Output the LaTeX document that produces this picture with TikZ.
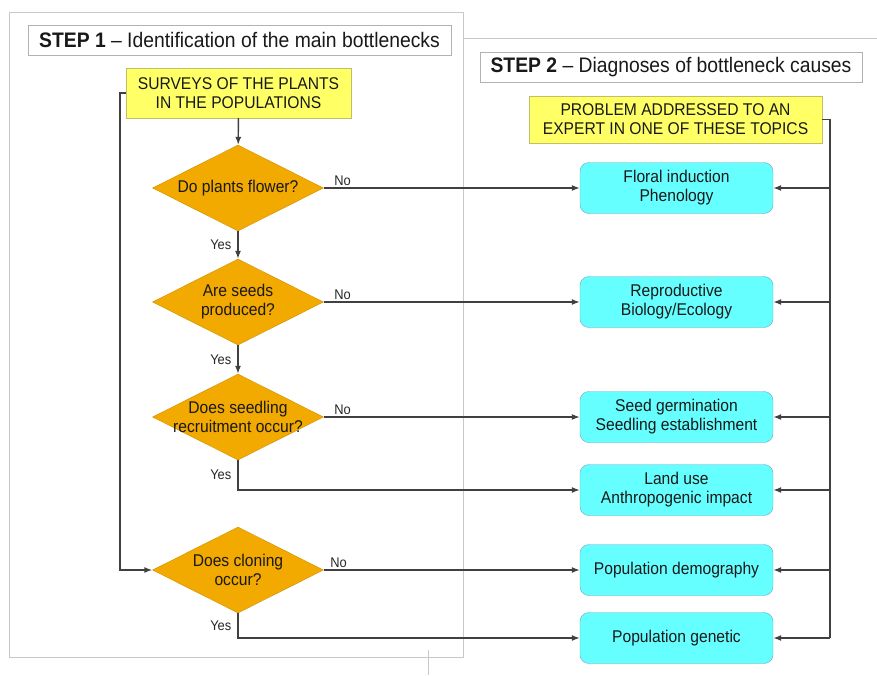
\documentclass[tikz,border=0pt]{standalone}
\usepackage{fontspec}
\setmainfont{Liberation Sans}[FakeStretch=0.92]
\usepackage{tikz}
\usetikzlibrary{shapes.geometric,positioning,arrows.meta}
\definecolor{boxyellow}{RGB}{255,255,102}
\definecolor{diaorange}{RGB}{242,169,0}
\definecolor{topiccyan}{RGB}{102,255,255}
\definecolor{wiregray}{RGB}{64,64,64}
\definecolor{framegray}{RGB}{200,200,200}
\tikzset{>={Latex[length=8pt,width=6pt]}}
\tikzstyle{arrow}  = [->,
                      line width=1.4pt,
                      draw=wiregray]
\tikzstyle{wire}   = [line width=1.4pt,
                      draw=wiregray]
\tikzstyle{frame}  = [line width=1pt,
                      draw=framegray]
\tikzstyle{steptitle} = [draw=gray!60,
                         fill=white,
                         minimum height=30pt,
                         inner sep=0pt,
                         text=black!90,
                         font=\fontsize{21}{24}\selectfont]
\tikzstyle{note}   = [draw=yellow!45!gray,
                      fill=boxyellow,
                      align=center,
                      inner sep=0pt,
                      text=black!90,
                      font=\fontsize{17}{19}\selectfont]
\tikzstyle{question} = [diamond,
                        draw=diaorange!85!black,
                        fill=diaorange,
                        minimum width=171pt,
                        minimum height=86pt,
                        inner sep=0pt]
\tikzstyle{qtext}  = [align=center,
                      inner sep=0pt,
                      text=black!90,
                      font=\fontsize{17}{19}\selectfont]
\tikzstyle{topic}  = [rectangle,
                      rounded corners=9pt,
                      draw=cyan!45!gray,
                      fill=topiccyan,
                      minimum width=193pt,
                      minimum height=51pt,
                      align=center,
                      inner sep=0pt,
                      text=black!90,
                      font=\fontsize{17}{19}\selectfont]
\tikzstyle{answer} = [inner sep=2pt,
                      text=black!85,
                      font=\fontsize{14}{16}\selectfont]

\begin{document}
\begin{tikzpicture}[x=1pt, y=-1pt]

  \useasboundingbox (0,0) rectangle (877,675);

  % Frame
  \draw[frame] (9,12) rectangle (463,657);
  \draw[frame] (463,38) -- (877,38);
  \draw[frame] (428,650) -- (428,675);

  % Nodes
  \node[steptitle, minimum width=423pt] (step1) at (239.5,40)
    {\textbf{STEP 1} -- Identification of the main bottlenecks};
  \node[steptitle, minimum width=382pt] (step2) at (671,67)
    {\textbf{STEP 2} -- Diagnoses of bottleneck causes};

  \node[note, minimum width=225pt, minimum height=50pt] (survey) at (238.5,93)
    {SURVEYS OF THE PLANTS\\IN THE POPULATIONS};
  \node[note, minimum width=293pt, minimum height=47pt] (expert) at (675.5,119.5)
    {PROBLEM ADDRESSED TO AN\\EXPERT IN ONE OF THESE TOPICS};

  \node[question, label={[qtext]center:Do plants flower?}] (flower) at (238,188) {};
  \node[question, label={[qtext]center:Are seeds\\produced?}] (seeds) at (238,302) {};
  \node[question, label={[qtext]center:Does seedling\\recruitment occur?}] (recruit) at (238,417) {};
  \node[question, label={[qtext]center:Does cloning\\occur?}] (cloning) at (238,570) {};

  \node[topic] (floral) at (676.5,188) {Floral induction\\Phenology};
  \node[topic] (repro) at (676.5,302) {Reproductive\\Biology/Ecology};
  \node[topic] (germ) at (676.5,417) {Seed germination\\Seedling establishment};
  \node[topic] (land) at (676.5,490) {Land use\\Anthropogenic impact};
  \node[topic] (demo) at (676.5,570) {Population demography};
  \node[topic] (genet) at (676.5,638) {Population genetic};

  \coordinate (bus) at (830,638);

  % Edges
  \draw[arrow] (survey) -- (flower);
  \draw[arrow] (survey.west) -- ++(-6,0) |- (cloning.west);

  \draw[arrow] (flower) -- node[answer, left=4pt] {Yes} (seeds);
  \draw[arrow] (seeds) -- node[answer, left=4pt] {Yes} (recruit);
  \draw[arrow] (recruit.south) |- node[answer, pos=0.25, left=4pt] {Yes} (land.west);
  \draw[arrow] (cloning.south) |- node[answer, pos=0.25, left=4pt] {Yes} (genet.west);

  \draw[arrow] (flower.east) -- node[answer, pos=0, above right, xshift=8pt] {No} (floral.west);
  \draw[arrow] (seeds.east) -- node[answer, pos=0, above right, xshift=8pt] {No} (repro.west);
  \draw[arrow] (recruit.east) -- node[answer, pos=0, above right, xshift=8pt] {No} (germ.west);
  \draw[arrow] (cloning.east) -- node[answer, pos=0, above right, xshift=4pt] {No} (demo.west);

  \draw[wire] (expert.east) -| (bus);
  \foreach \t in {floral,repro,germ,land,demo,genet}
    \draw[arrow] (bus |- \t.east) -- (\t.east);

\end{tikzpicture}
\end{document}
